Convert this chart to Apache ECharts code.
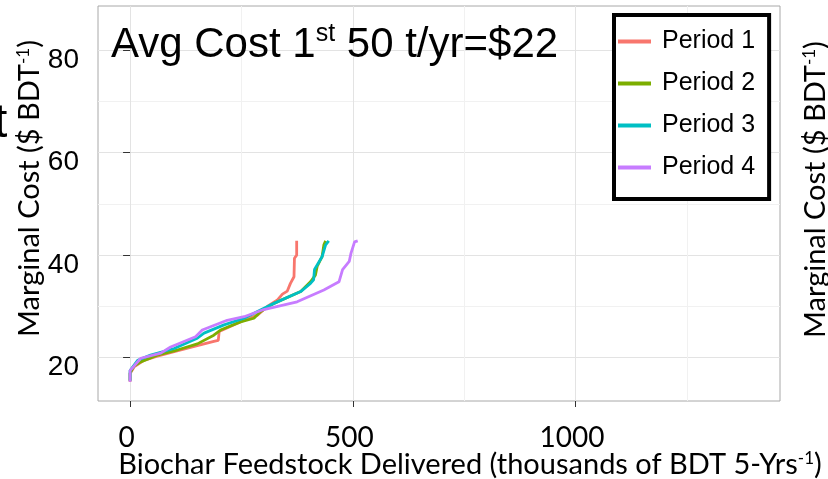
<!DOCTYPE html>
<html>
<head>
<meta charset="utf-8">
<script src="https://cdn.jsdelivr.net/npm/echarts@6/dist/echarts.min.js"></script>
<style>
  html, body { margin: 0; padding: 0; background: #fff; }
  #echarts { width: 828px; height: 479px; }
</style>
</head>
<body>
<div id="echarts"></div>
<script>
// ======================
// DATA
// ======================

const periodNames = ['Period 1', 'Period 2', 'Period 3', 'Period 4'];

// feedstock delivered (thousands of BDT) / marginal cost ($ per BDT)
const p1Supply = [0, 0, 9, 31, 61, 99, 140, 188, 198, 200, 256, 286, 308, 330, 342, 353, 360, 368, 369, 374, 374];
const p1Cost   = [15.3, 16.9, 18.2, 19.5, 20.3, 21.2, 22.1, 23.2, 23.4, 25.1, 27.3, 28.3, 30.0, 31.2, 32.4, 33.0, 34.5, 35.8, 39.4, 40.0, 42.8];

const p2Supply = [0, 0, 8, 24, 61, 106, 151, 188, 203, 248, 278, 293, 323, 383, 405, 416, 420, 431, 435, 439];
const p2Cost   = [15.5, 17.0, 18.3, 19.2, 20.5, 21.5, 22.7, 24.4, 25.4, 27.0, 27.7, 29.0, 30.6, 32.9, 34.8, 36.1, 37.8, 39.7, 42.0, 42.8];

const p3Supply = [0, 0, 17, 46, 99, 151, 166, 211, 256, 286, 323, 383, 405, 412, 414, 431, 439, 446];
const p3Cost   = [15.5, 17.5, 19.5, 20.5, 21.8, 23.8, 24.8, 26.4, 27.7, 29.0, 30.6, 32.9, 34.5, 35.2, 37.2, 39.7, 42.0, 42.8];

const p4Supply = [0, 0, 24, 69, 91, 147, 162, 218, 256, 300, 375, 435, 469, 477, 492, 496, 504, 511];
const p4Cost   = [15.3, 17.5, 19.9, 20.9, 22.1, 24.1, 25.4, 27.3, 28.0, 29.4, 30.9, 33.2, 34.8, 37.2, 38.8, 40.4, 42.6, 42.8];

const xMajorTicks = [0, 500, 1000];
const xMinorTicks = [250, 750, 1250];
const yMajorTicks = [20, 40, 60, 80];
const yMinorTicks = [30, 50, 70];

const supplyList = [p1Supply, p2Supply, p3Supply, p4Supply];
const costList = [p1Cost, p2Cost, p3Cost, p4Cost];
const colors = ['#F8766D', '#7CAE00', '#00BFC4', '#C77CFF'];

// ======================
// CHART
// ======================

const chartContainer = document.getElementById('echarts');
const chart = echarts.init(chartContainer, null, { renderer: 'canvas' });

const xRange = { min: -72, max: 1459 };
const yRange = { min: 11.56, max: 88.6 };

const sansText = 'Liberation Sans';
const axisText = 'Lato';

// rich styles for "... BDT^-1" axis titles
const titleRich = {
    a: { fontFamily: axisText, fontSize: 29, color: '#000', lineHeight: 32 },
    s: { fontFamily: axisText, fontSize: 17, color: '#000', lineHeight: 32, padding: [0, 0, 13, 0] }
};

const option = {
    animation: false,
    backgroundColor: '#fff',
    title: {
        text: '{a|Avg Cost 1}{s|st}{a| 50 t/yr=$22}',
        left: 106,
        top: 17,
        textStyle: {
            rich: {
                a: { fontFamily: sansText, fontSize: 42, fontWeight: 'normal', color: '#000', lineHeight: 46 },
                s: { fontFamily: sansText, fontSize: 25, fontWeight: 'normal', color: '#000', lineHeight: 46, padding: [0, 0, 22, 0] }
            }
        }
    },
    legend: {
        data: periodNames,
        orient: 'vertical',
        left: 614,
        top: 15,
        padding: [14, 14, 19, 4],
        itemGap: 17,
        itemWidth: 33,
        itemHeight: 4,
        icon: 'rect',
        backgroundColor: '#fff',
        borderColor: '#000',
        borderWidth: 4,
        borderRadius: 0,
        textStyle: { fontFamily: sansText, fontSize: 25, color: '#000', padding: [0, 0, 0, 6] }
    },
    grid: {
        left: 98,
        top: 6,
        width: 682,
        height: 395,
        outerBoundsMode: 'none',
        containLabel: false,
        show: true,
        borderColor: '#a8a8a8',
        borderWidth: 1,
        backgroundColor: '#fff'
    },
    xAxis: [
        {
            type: 'value',
            min: xRange.min,
            max: xRange.max,
            name: '{a|Biochar Feedstock Delivered (thousands of BDT 5-Yrs}{s|-1}{a|)}',
            nameLocation: 'middle',
            nameGap: 48,
            nameMoveOverlap: false,
            nameTextStyle: {
                padding: [0, 0, 0, 62],
                rich: titleRich
            },
            axisLine: { show: false },
            axisTick: { show: true, length: 6, customValues: xMajorTicks, lineStyle: { color: '#333', width: 1 } },
            axisLabel: {
                customValues: xMajorTicks,
                formatter: v => String(v),
                margin: 23,
                fontFamily: axisText,
                fontSize: 28,
                color: '#000',
                padding: [0, 7, 0, 0]
            },
            splitLine: { show: true, lineStyle: { color: '#e3e3e3', width: 1 } }
        },
        {
            type: 'value',
            min: xRange.min,
            max: xRange.max,
            position: 'bottom',
            axisLine: { show: false },
            axisTick: { show: false, customValues: xMinorTicks },
            axisLabel: { show: false, customValues: xMinorTicks },
            splitLine: { show: true, lineStyle: { color: '#f1f1f1', width: 1 } }
        }
    ],
    yAxis: [
        {
            type: 'value',
            min: yRange.min,
            max: yRange.max,
            name: '{a|Marginal Cost ($ BDT}{s|-1}{a|)}',
            nameLocation: 'middle',
            nameRotate: 90,
            nameGap: 52,
            nameMoveOverlap: false,
            nameTextStyle: {
                padding: [0, 0, 0, 30],
                rich: titleRich
            },
            axisLine: { show: false },
            axisTick: { show: true, length: 7, customValues: yMajorTicks, lineStyle: { color: '#333', width: 1 } },
            axisLabel: {
                customValues: yMajorTicks,
                margin: 19,
                fontFamily: sansText,
                fontSize: 28,
                color: '#000',
                verticalAlign: 'top',
                lineHeight: 20
            },
            splitLine: { show: true, lineStyle: { color: '#e3e3e3', width: 1 } }
        },
        {
            type: 'value',
            min: yRange.min,
            max: yRange.max,
            position: 'left',
            axisLine: { show: false },
            axisTick: { show: false, customValues: yMinorTicks },
            axisLabel: { show: false, customValues: yMinorTicks },
            splitLine: { show: true, lineStyle: { color: '#f1f1f1', width: 1 } }
        }
    ],
    // bits of neighbouring panels that are cut off at the edges
    graphic: [
        {
            type: 'text',
            left: -6,
            top: 100,
            style: { text: 't', fontFamily: sansText, fontSize: 48, fill: '#000' }
        },
        {
            type: 'text',
            x: 800,
            y: 338,
            rotation: Math.PI / 2,
            style: {
                text: '{a|Marginal Cost ($ BDT}{s|-1}{a|)}',
                rich: {
                    a: { fontFamily: axisText, fontSize: 29, fill: '#000', lineHeight: 32 },
                    s: { fontFamily: axisText, fontSize: 17, fill: '#000', lineHeight: 32, padding: [0, 0, 13, 0] }
                }
            }
        }
    ],
    series: periodNames.map((name, i) => ({
        name,
        type: 'line',
        xAxisIndex: 0,
        yAxisIndex: 0,
        showSymbol: false,
        symbol: 'none',
        color: colors[i],
        lineStyle: { width: 2.8, color: colors[i] },
        data: supplyList[i].map((x, k) => [x, costList[i][k]])
    }))
};

chart.setOption(option);
</script>
</body>
</html>
